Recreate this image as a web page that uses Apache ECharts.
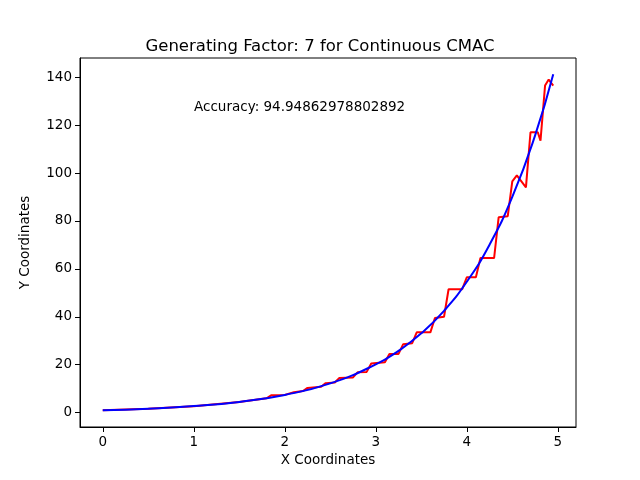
<!DOCTYPE html>
<html><head><meta charset="utf-8">
<script src="https://cdn.jsdelivr.net/npm/echarts@6/dist/echarts.min.js"></script>
<style>html,body{margin:0;background:#fff}#c{width:640px;height:480px}</style>
</head><body><div id="c"></div>
<script>
// CMAC output (red)
var redX = [0,0.5,1,1.5,1.8,1.85,2.0,2.1,2.2,2.25,2.4,2.45,2.55,2.6,2.75,2.8,2.9,2.95,3.1,3.15,3.25,3.3,3.4,3.45,3.6,3.65,3.75,3.8,3.95,4.0,4.1,4.15,4.3,4.35,4.45,4.5,4.55,4.65,4.7,4.78,4.81,4.86,4.9,4.95];
var redY = [1,1.6,2.7,4.4,6,7.2,7.4,8.5,9.0,10.3,10.8,12.3,12.6,14.5,14.7,16.8,17,20.5,21,24.5,24.5,28.5,29,33.5,33.5,39.5,40,51.5,51.5,56.5,56.5,64.5,64.5,81.5,82,96.5,99,94,117,117,113.5,136.5,139,136.5];
// target curve (blue)
var blueX = [0,0.5,1,1.5,2,2.5,3,3.25,3.5,3.75,4,4.25,4.5,4.75,4.95];
var blueY = [1,1.65,2.72,4.48,7.39,12.2,20.1,25.8,33.1,42.5,54.6,70.1,90,115.6,141.2];
function pairs(xs, ys){ return xs.map(function(x,i){return [x, ys[i]];}); }
var chart = echarts.init(document.getElementById('c'));
var font = 'DejaVu Sans';
chart.setOption({
  animation:false,
  title:{text:'Generating Factor: 7 for Continuous CMAC',left:'center',top:33,textStyle:{fontFamily:font,fontSize:16.5,fontWeight:'normal',color:'#000'}},
  grid:{left:80,right:64,top:58,bottom:53},
  xAxis:{type:'value',min:-0.25,max:5.2,interval:1,name:'X Coordinates',nameLocation:'middle',nameGap:26,
    nameTextStyle:{fontFamily:font,fontSize:13.5,color:'#000'},
    axisLine:{onZero:false,lineStyle:{color:'#000'}},
    axisLabel:{fontFamily:font,fontSize:13.5,color:'#000',customValues:[0,1,2,3,4,5]},
    axisTick:{customValues:[0,1,2,3,4,5],lineStyle:{color:'#000'}},splitLine:{show:false}},
  yAxis:{type:'value',min:-6,max:148,name:'Y Coordinates',nameLocation:'middle',nameGap:48,
    nameTextStyle:{fontFamily:font,fontSize:13.5,color:'#000'},
    axisLine:{show:true,onZero:false,lineStyle:{color:'#000'}},
    axisLabel:{fontFamily:font,fontSize:13.5,color:'#000',customValues:[0,20,40,60,80,100,120,140]},
    axisTick:{show:true,customValues:[0,20,40,60,80,100,120,140],lineStyle:{color:'#000'}},splitLine:{show:false}},
  graphic:[{type:'rect',shape:{x:80,y:58,width:496,height:369},style:{fill:'none',stroke:'#000',lineWidth:1},silent:true},
    {type:'text',left:194,top:100,style:{text:'Accuracy: 94.94862978802892',font:'13.5px DejaVu Sans',fill:'#000'}}],
  series:[
    {type:'line',data:pairs(redX,redY),showSymbol:false,lineStyle:{color:'#ff0000',width:2}},
    {type:'line',data:pairs(blueX,blueY),smooth:true,showSymbol:false,lineStyle:{color:'#0000ff',width:2}}
  ]
});
</script></body></html>
